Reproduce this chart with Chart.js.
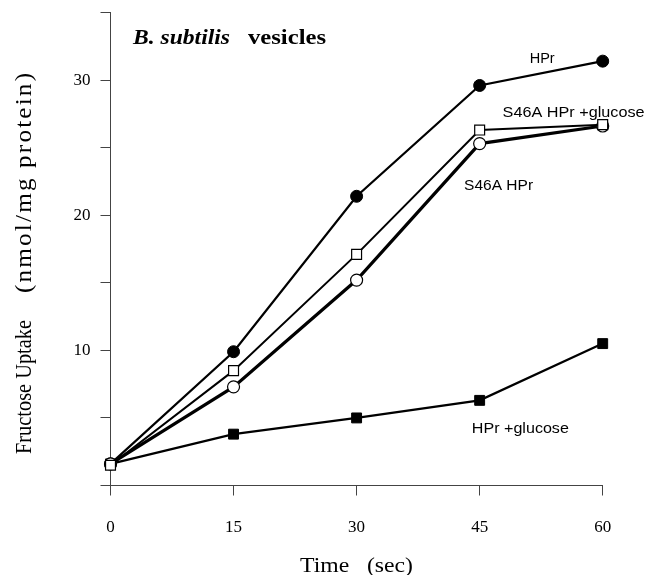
<!DOCTYPE html>
<html><head><meta charset="utf-8">
<script src="https://cdn.jsdelivr.net/npm/chart.js@4/dist/chart.umd.min.js"></script>
<style>html,body{margin:0;padding:0;background:#fff;}#wrap{width:647px;height:575px;}</style>
</head><body><div id="wrap"><canvas id="c" width="647" height="575"></canvas></div>
<script>
// ---- data ----
const timePoints = [0, 15, 30, 45, 60];
const hpr = [1.6, 9.9, 21.4, 29.6, 31.4];
const s46aHprGlucose = [1.5, 8.5, 17.1, 26.3, 26.7];
const s46aHpr = [1.6, 7.3, 15.2, 25.3, 26.6];
const hprGlucose = [1.6, 3.8, 5.0, 6.3, 10.5];
const xTickValues = [0, 15, 30, 45, 60];
const yTickLabels = [10, 20, 30];
const seriesNames = ['HPr', 'S46A HPr +glucose', 'S46A HPr', 'HPr +glucose'];
const chartTitle = ['B. subtilis', 'vesicles'];
const xTitle = 'Time   (sec)';
const yTitle = ['Fructose Uptake', '(nmol/mg protein)'];

const pts = arr => timePoints.map((t, i) => ({x: t, y: arr[i]}));

// ---- in-plot label anchors (data coords) ----
const labelAnchors = [
  {text: seriesNames[0], x: 51.1, y: 31.26, w: 25},
  {text: seriesNames[1], x: 47.8, y: 27.27, w: 142},
  {text: seriesNames[2], x: 43.1, y: 21.83, w: 69},
  {text: seriesNames[3], x: 44.05, y: 3.92, w: 97}
];

function drawFit(ctx, text, font, x0, x1, baseline, spacing) {
  ctx.save();
  ctx.font = font;
  ctx.textAlign = 'left';
  ctx.textBaseline = 'alphabetic';
  ctx.fillStyle = '#000';
  let trail = 0;
  if (spacing && 'letterSpacing' in ctx) { ctx.letterSpacing = spacing + 'px'; trail = spacing; }
  const w = ctx.measureText(text).width - trail;
  ctx.translate(x0, baseline);
  ctx.scale((x1 - x0) / w, 1);
  ctx.fillText(text, 0, 0);
  ctx.restore();
}

const textPlugin = {
  id: 'texts',
  afterDraw(chart) {
    const ctx = chart.ctx;
    const xs = chart.scales.x, ys = chart.scales.y;
    drawFit(ctx, chartTitle[0], 'italic bold 20px "Liberation Serif"', 133, 230, 44);
    drawFit(ctx, chartTitle[1], 'bold 20px "Liberation Serif"', 248, 326, 44);
    labelAnchors.forEach(l => {
      const px = xs.getPixelForValue(l.x), py = ys.getPixelForValue(l.y);
      drawFit(ctx, l.text, '15px "Liberation Sans"', px, px + l.w, py);
    });
    drawFit(ctx, xTitle, '22px "Liberation Serif"', 300, 413, 572);
    ctx.save();
    ctx.translate(31, 0);
    ctx.rotate(-Math.PI / 2);
    drawFit(ctx, yTitle[0], '23px "Liberation Serif"', -454, -320, 0);
    drawFit(ctx, yTitle[1], '23px "Liberation Serif"', -293, -73, 0, 2);
    ctx.restore();
  }
};

const axisColor = '#444';
new Chart(document.getElementById('c'), {
  type: 'line',
  data: {
    datasets: [
      {label: seriesNames[1], data: pts(s46aHprGlucose), borderColor: '#000', borderWidth: 2, clip: false,
       pointStyle: 'rect', pointRadius: 7, pointBackgroundColor: '#fff', pointBorderColor: '#000', pointBorderWidth: 1.2},
      {label: seriesNames[2], data: pts(s46aHpr), borderColor: '#000', borderWidth: 3.2, clip: false,
       pointStyle: 'circle', pointRadius: 6, pointBackgroundColor: '#fff', pointBorderColor: '#000', pointBorderWidth: 1.2},
      {label: seriesNames[0], data: pts(hpr), borderColor: '#000', borderWidth: 2.2, clip: false,
       pointStyle: 'circle', pointRadius: 6, pointBackgroundColor: '#000', pointBorderColor: '#000', pointBorderWidth: 1},
      {label: seriesNames[3], data: pts(hprGlucose), borderColor: '#000', borderWidth: 2.2, clip: false,
       pointStyle: 'rect', pointRadius: 7, pointBackgroundColor: '#000', pointBorderColor: '#000', pointBorderWidth: 1}
    ]
  },
  options: {
    responsive: false,
    animation: false,
    devicePixelRatio: 1,
    layout: {padding: {top: 12.5, right: 44.3, left: 0, bottom: 0}},
    plugins: {legend: {display: false}, tooltip: {enabled: false}},
    scales: {
      x: {
        type: 'linear', min: 0, max: 60,
        afterBuildTicks: s => { s.ticks = xTickValues.map(v => ({value: v})); },
        afterFit: s => { s.height = 89.5; s.paddingLeft = 0; s.paddingRight = 0; },
        ticks: {color: '#000', font: {family: 'Liberation Serif', size: 17}, padding: 22, maxRotation: 0},
        grid: {drawOnChartArea: false, drawTicks: true, tickLength: 10, color: axisColor, lineWidth: 1},
        border: {color: axisColor, width: 1}
      },
      y: {
        type: 'linear', min: 0, max: 35,
        afterFit: s => { s.width = 110.5; s.paddingTop = 0; s.paddingBottom = 0; },
        ticks: {stepSize: 5, color: '#000', font: {family: 'Liberation Serif', size: 17}, padding: 10,
                callback: v => yTickLabels.includes(v) ? String(v) : ''},
        grid: {drawOnChartArea: false, drawTicks: true, tickLength: 10, color: axisColor, lineWidth: 1},
        border: {color: axisColor, width: 1}
      }
    }
  },
  plugins: [textPlugin]
});
</script>
</body></html>
